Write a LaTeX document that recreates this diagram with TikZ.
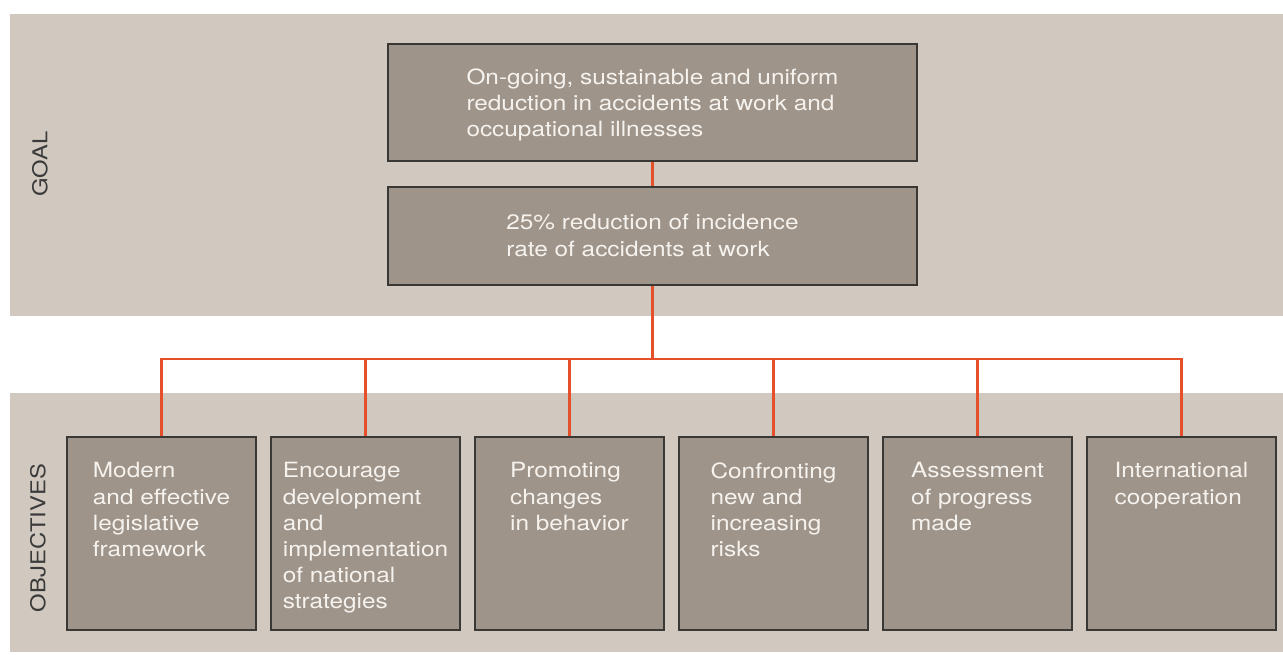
\documentclass[tikz,border=0pt]{standalone}
\usepackage{fontspec}
\setmainfont{TeX Gyre Heros}[FakeStretch=1.16]
\usetikzlibrary{calc,positioning}

\definecolor{bandgray}{HTML}{D1C9BF}
\definecolor{boxgray}{HTML}{9E948A}
\definecolor{edgegray}{HTML}{3A3835}
\definecolor{linkred}{HTML}{E5502B}
\definecolor{boxtext}{HTML}{F6F3EF}
\definecolor{sidetext}{HTML}{3A3A3A}

\tikzset{
  band/.style={fill=bandgray, draw=none},
  goalbox/.style={draw=edgegray, fill=boxgray, line width=1.2pt, minimum width=529pt, inner sep=0pt},
  objbox/.style={draw=edgegray, fill=boxgray, line width=1.2pt, minimum width=189pt, minimum height=193pt, inner sep=0pt},
  boxtxt/.style={text=boxtext, align=left, anchor=north, inner sep=0pt, font=\fontsize{21}{26.2}\selectfont},
  link/.style={draw=linkred, line width=2.4pt},
  sidelabel/.style={text=sidetext, rotate=90, inner sep=0pt, font=\fontsize{20.5}{25}\selectfont}
}

\begin{document}
\begin{tikzpicture}[x=1pt, y=-1pt]
    \useasboundingbox (0,0) rectangle (1283,654);

    % Draw the two background bands
    \fill[band] (10,14) rectangle (1283,316);
    \fill[band] (10,393) rectangle (1283,652);

    % Side labels
    \node[sidelabel] (goal) at (40,164) {GOAL};
    \node[sidelabel] (objectives) at (38,538) {OBJECTIVES};

    % Goal boxes
    \node[goalbox, minimum height=117pt] (g1) at (652.5,102.5) {};
    \node[goalbox, minimum height=98pt] (g2) at (652.5,236) {};
    \node[boxtxt] (g1text) at ($(g1.north)+(0,25)$) {On-going, sustainable and uniform\\reduction in accidents at work and\\occupational illnesses};
    \node[boxtxt] (g2text) at ($(g2.north)+(0,28)$) {25\% reduction of incidence\\rate of accidents at work};

    % Objective boxes
    \foreach \i/\txt in {1/{Modern\\and effective\\legislative\\framework},
                         2/{Encourage\\development\\and\\implementation\\of national\\strategies},
                         3/{Promoting\\changes\\in behavior},
                         4/{Confronting\\new and\\increasing\\risks},
                         5/{Assessment\\of progress\\made},
                         6/{International\\cooperation}} {
        \node[objbox] (o\i) at ({161.5+204*(\i-1)},533.5) {};
        \node[boxtxt] (o\i text) at ($(o\i.north)+(0,26)$) {\txt};
    }

    % Draw the connecting lines
    \coordinate (split) at (652.5,359);
    \draw[link] (g1.south) -- (g2.north);
    \draw[link] (g2.south) -- (split);
    \draw[link] (o1.north) -- (o1.north |- split) -- (o6.north |- split) -- (o6.north);
    \foreach \i in {2,...,5}
        \draw[link] (o\i.north) -- (o\i.north |- split);
\end{tikzpicture}
\end{document}
